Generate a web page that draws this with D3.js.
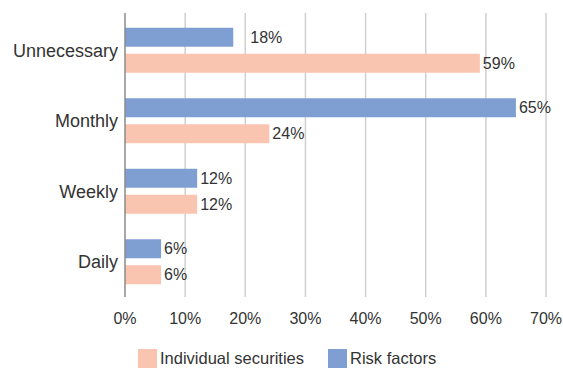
<!DOCTYPE html>
<html>
<head>
<meta charset="utf-8">
<script src="https://cdn.jsdelivr.net/npm/d3@7"></script>
<style>
  body { margin: 0; background: #fff; }
  text { font-family: "Liberation Sans", Arial, sans-serif; fill: #333; }
</style>
</head>
<body>
<svg width="563" height="368"></svg>
<script>
// data
const categories = ["Unnecessary", "Monthly", "Weekly", "Daily"];
const seriesNames = ["Risk factors", "Individual securities"];
const riskFactors = [18, 65, 12, 6];
const individualSecurities = [59, 24, 12, 6];
const xTicks = [0, 10, 20, 30, 40, 50, 60, 70];

const colors = {"Risk factors": "#7f9fd2", "Individual securities": "#f9c4b0"};

const rows = categories.map((c, i) => ({
    category: c,
    values: [
        {key: "Risk factors", value: riskFactors[i]},
        {key: "Individual securities", value: individualSecurities[i]}
    ]
}));

const svg = d3.select("svg");

const plotLeft = 125, plotRight = 546, plotTop = 13, plotBottom = 297;

const x = d3.scaleLinear()
    .domain([0, 70])
    .range([plotLeft, plotRight]);

const y0 = d3.scaleBand()
    .domain(categories)
    .range([plotTop + 2, plotBottom])
    .paddingInner(0.362)
    .paddingOuter(0.181);

const y1 = d3.scaleBand()
    .domain(seriesNames)
    .range([0, y0.bandwidth()])
    .paddingInner(0.27);

// gridlines
svg.append("g")
    .selectAll("line")
    .data(xTicks.filter(d => d > 0))
    .enter().append("line")
    .attr("x1", d => x(d)).attr("x2", d => x(d))
    .attr("y1", plotTop).attr("y2", plotBottom)
    .attr("stroke", "#cfcfcf")
    .attr("stroke-width", 1.5);

// x tick labels
svg.append("g")
    .selectAll("text")
    .data(xTicks)
    .enter().append("text")
    .attr("x", d => x(d))
    .attr("y", 324)
    .attr("text-anchor", "middle")
    .attr("font-size", "16px")
    .text(d => d + "%");

// bars
const groups = svg.selectAll(".grp")
    .data(rows)
    .enter().append("g")
    .attr("transform", d => `translate(0, ${y0(d.category)})`);

groups.selectAll("rect")
    .data(d => d.values)
    .enter().append("rect")
    .attr("x", x(0))
    .attr("y", d => y1(d.key))
    .attr("width", d => x(d.value) - x(0))
    .attr("height", y1.bandwidth())
    .attr("fill", d => colors[d.key]);

// value labels (the 18% one sits a bit further out in the original)
groups.selectAll(".lbl")
    .data((d, i) => d.values.map(v => ({...v, cat: d.category})))
    .enter().append("text")
    .attr("x", d => x(d.value) + (d.cat === "Unnecessary" && d.key === "Risk factors" ? 17 : 3))
    .attr("y", d => y1(d.key) + y1.bandwidth() / 2)
    .attr("dy", "0.36em")
    .attr("font-size", "16px")
    .text(d => d.value + "%");

// axis line at 0
svg.append("line")
    .attr("x1", x(0)).attr("x2", x(0))
    .attr("y1", plotTop).attr("y2", plotBottom)
    .attr("stroke", "#8a8a8a")
    .attr("stroke-width", 1.5);

// category labels
svg.append("g")
    .selectAll("text")
    .data(categories)
    .enter().append("text")
    .attr("x", 118)
    .attr("y", d => y0(d) + y0.bandwidth() / 2)
    .attr("dy", "0.36em")
    .attr("text-anchor", "end")
    .attr("font-size", "18px")
    .text(d => d);

// legend
const legendItems = [
    {key: "Individual securities", x: 138},
    {key: "Risk factors", x: 328}
];
const legend = svg.append("g");
legend.selectAll("rect")
    .data(legendItems)
    .enter().append("rect")
    .attr("x", d => d.x)
    .attr("y", 349)
    .attr("width", 19)
    .attr("height", 19)
    .attr("fill", d => colors[d.key]);
legend.selectAll("text")
    .data(legendItems)
    .enter().append("text")
    .attr("x", d => d.x + 22)
    .attr("y", 358)
    .attr("dy", "0.36em")
    .attr("font-size", "16.5px")
    .text(d => d.key);
</script>
</body>
</html>
